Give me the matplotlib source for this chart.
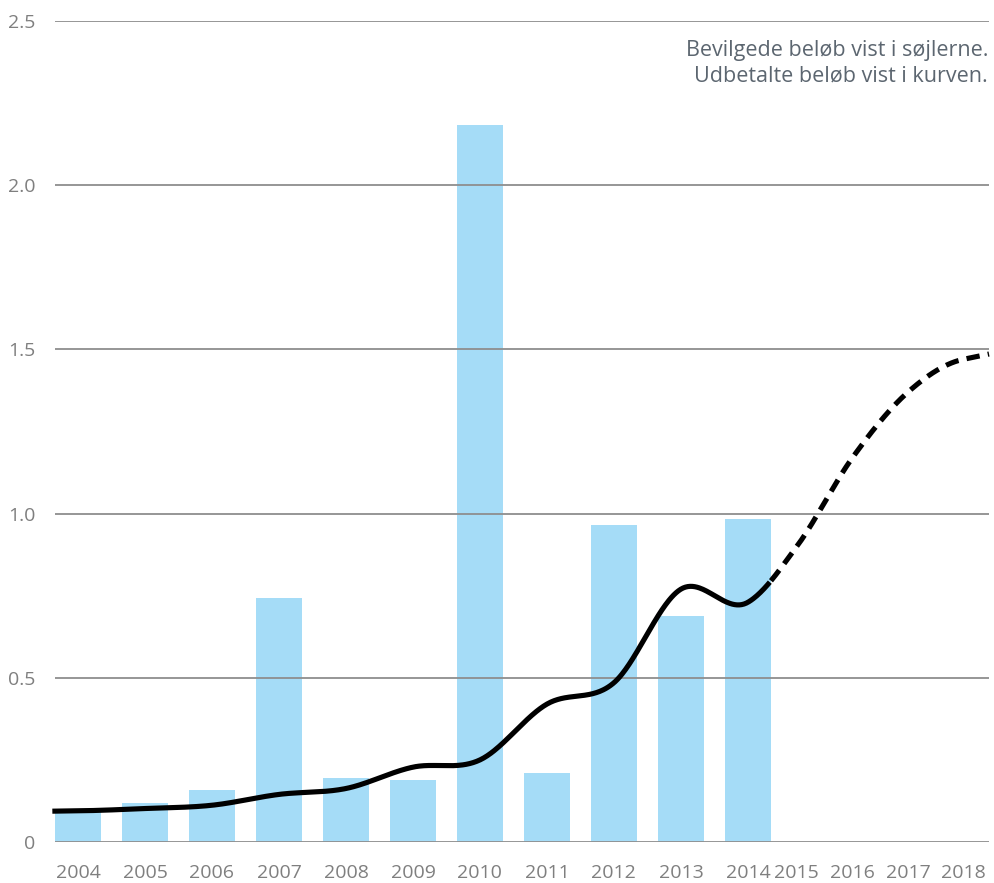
import matplotlib.pyplot as plt
import numpy as np

plt.rcParams['font.family'] = ['Open Sans', 'DejaVu Sans']

# data (mia. kr.)
years = ['2004', '2005', '2006', '2007', '2008', '2009', '2010', '2011',
         '2012', '2013', '2014', '2015', '2016', '2017', '2018']
granted = [0.094, 0.119, 0.158, 0.743, 0.195, 0.189, 2.183, 0.21,
           0.965, 0.688, 0.983]
paid = [0.095, 0.102, 0.112, 0.145, 0.163, 0.228, 0.25, 0.42,
        0.485, 0.77, 0.73, 0.9, 1.17, 1.37, 1.47]
yticks = [0, 0.5, 1.0, 1.5, 2.0, 2.5]
ytick_labels = ['0', '0.5', '1.0', '1.5', '2.0', '2.5']
note = 'Bevilgede beløb vist i søjlerne.\nUdbetalte beløb vist i kurven.'

# label positions: the last four years are squeezed in at the right
pos = np.concatenate([np.arange(len(granted)), np.linspace(10.73, 13.22, 4)])


def smooth(x, y, xs):
    # hermite spline with catmull-rom tangents, eased ends
    x = np.asarray(x, float)
    y = np.asarray(y, float)
    m = np.gradient(y, x)
    m[0] *= 0.4
    m[-1] *= 0.35
    out = np.empty_like(xs)
    for k, v in enumerate(xs):
        if v <= x[0]:
            out[k] = y[0] + m[0] * (v - x[0])
            continue
        if v >= x[-1]:
            out[k] = y[-1] + m[-1] * (v - x[-1])
            continue
        i = np.searchsorted(x, v) - 1
        h = x[i + 1] - x[i]
        t = (v - x[i]) / h
        h00 = 2 * t**3 - 3 * t**2 + 1
        h10 = t**3 - 2 * t**2 + t
        h01 = -2 * t**3 + 3 * t**2
        h11 = t**3 - t**2
        out[k] = h00 * y[i] + h10 * h * m[i] + h01 * y[i + 1] + h11 * h * m[i + 1]
    return out


fig = plt.figure(figsize=(9.95, 8.83), dpi=100)
ax = fig.add_axes([0.0553, 0.0464, 0.9387, 0.9298])

ax.bar(np.arange(len(granted)), granted, width=0.69, color='#a5dcf7', zorder=1)

xlim = (-0.343, 13.6)
xs = np.linspace(xlim[0] - 0.04, xlim[1], 800)
ys = smooth(pos, paid, xs)
split = pos[10] + 0.33
ax.plot(xs[xs <= split], ys[xs <= split], color='black', lw=3.7,
        solid_capstyle='butt', zorder=3, clip_on=False)
ax.plot(xs[xs >= split], ys[xs >= split], color='black', lw=3.7,
        dashes=(2.6, 1.6), dash_capstyle='butt', zorder=3, clip_on=False)

ax.set_xlim(*xlim)
ax.set_ylim(0, 2.5)
ax.set_yticks(yticks)
ax.set_yticklabels(ytick_labels)
ax.set_xticks(pos)
ax.set_xticklabels(years)
ax.tick_params(axis='both', length=0, labelsize=14, colors='#7f7f7f')
ax.tick_params(axis='x', pad=16)
ax.tick_params(axis='y', pad=14)
for lab in ax.get_yticklabels():
    lab.set_horizontalalignment('right')

ax.set_axisbelow(False)
ax.grid(axis='y', color='#8e8e8e', lw=1.3)
ax.grid(axis='x', visible=False)
for s in ax.spines.values():
    s.set_visible(False)

fig.text(0.993, 0.955, note, ha='right', va='top', fontsize=15.5,
         color='#5c6670', linespacing=1.32, fontweight='medium')

fig.savefig('out.png', dpi=100)
